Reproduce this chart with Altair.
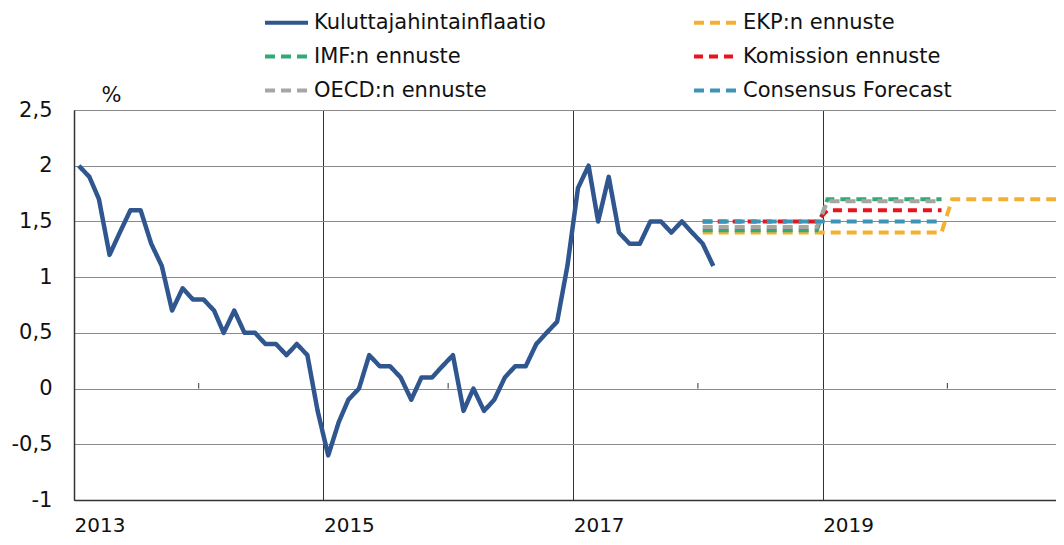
import altair as alt
import pandas as pd

# ---- data ----
cpi_start_year = 2013
cpi = [2.0, 1.9, 1.7, 1.2, 1.4, 1.6, 1.6, 1.3, 1.1, 0.7, 0.9, 0.8,
       0.8, 0.7, 0.5, 0.7, 0.5, 0.5, 0.4, 0.4, 0.3, 0.4, 0.3, -0.2,
       -0.6, -0.3, -0.1, 0.0, 0.3, 0.2, 0.2, 0.1, -0.1, 0.1, 0.1, 0.2,
       0.3, -0.2, 0.0, -0.2, -0.1, 0.1, 0.2, 0.2, 0.4, 0.5, 0.6, 1.1,
       1.8, 2.0, 1.5, 1.9, 1.4, 1.3, 1.3, 1.5, 1.5, 1.4, 1.5, 1.4,
       1.3, 1.1]

forecast_years = [2018, 2019, 2020]
ekp = [1.4, 1.4, 1.7]
imf = [1.42, 1.7]
komissio = [1.5, 1.6]
oecd = [1.45, 1.68]
consensus = [1.5, 1.5]

# legend order (Vega fills the two legend columns top-down)
series_names = ["Kuluttajahintainflaatio", "IMF:n ennuste", "OECD:n ennuste",
                "EKP:n ennuste", "Komission ennuste", "Consensus Forecast"]
series_colors = ["#30568F", "#35A877", "#A6A6A6", "#F5B031", "#E8141B", "#3E94B5"]
series_dash = [[1, 0], [10, 6], [10, 6], [10, 6], [9, 6], [10, 6]]

minor_tick_years = [2014, 2016, 2018, 2020]
grid_years = [2013, 2015, 2017, 2019]
y_ticks = [-1, -0.5, 0, 0.5, 1, 1.5, 2, 2.5]

# ---- tables (monthly observations dated mid-month) ----
rows = []
for i, v in enumerate(cpi):
    y = cpi_start_year + i // 12
    m = i % 12 + 1
    rows.append({"date": f"{y}-{m:02d}-15", "value": v, "series": series_names[0]})
cpi_df = pd.DataFrame(rows)

frows = []
for name, vals in [("EKP:n ennuste", ekp), ("IMF:n ennuste", imf),
                   ("Komission ennuste", komissio), ("OECD:n ennuste", oecd),
                   ("Consensus Forecast", consensus)]:
    for y, v in zip(forecast_years, vals):
        for m in range(1, 13):
            frows.append({"date": f"{y}-{m:02d}-15", "value": v, "series": name})
fc_df = pd.DataFrame(frows)

tick_df = pd.DataFrame({"date": [f"{y}-01-01" for y in minor_tick_years],
                        "y0": [0] * len(minor_tick_years),
                        "y1": [0.05] * len(minor_tick_years)})

FONT = "DejaVu Sans"

x_scale = alt.Scale(type="utc",
                    domain=[alt.DateTime(year=2013, month=1, date=1, utc=True),
                            alt.DateTime(year=2020, month=11, date=14, utc=True)])
y_scale = alt.Scale(domain=[-1, 2.5], nice=False, zero=False)

x_axis = alt.Axis(values=[alt.DateTime(year=y, month=1, date=1, utc=True) for y in grid_years],
                  format="%Y", labelAlign="left", labelFlush=False,
                  labelPadding=15, ticks=False, grid=True, gridColor="#333333",
                  gridWidth=1, domainColor="#333333", domainWidth=1.5,
                  labelFont=FONT, labelFontSize=20, labelColor="#111111", title=None)
y_axis = alt.Axis(values=y_ticks, labelExpr="replace(toString(datum.value), '.', ',')",
                  ticks=False, labelPadding=22, grid=True, gridColor="#8a8a8a", gridWidth=1,
                  domainColor="#333333", domainWidth=1.5,
                  labelFont=FONT, labelFontSize=21, labelColor="#111111",
                  title="%", titleAngle=0, titleX=37, titleY=-5, titleAlign="center",
                  titleBaseline="bottom", titleFont=FONT, titleFontSize=21,
                  titleFontWeight="normal", titleColor="#111111")

color = alt.Color("series:N", scale=alt.Scale(domain=series_names, range=series_colors),
                  sort=series_names,
                  legend=alt.Legend(title=None, orient="none", legendX=189, legendY=-111,
                                    columns=2, columnPadding=140, rowPadding=-12.5,
                                    symbolType="stroke", symbolSize=1849,
                                    symbolStrokeWidth=4, labelFont=FONT, labelFontSize=21,
                                    labelColor="#111111", labelOffset=4, labelLimit=400,
                                    padding=0))
dash = alt.StrokeDash("series:N", scale=alt.Scale(domain=series_names, range=series_dash),
                      sort=series_names, legend=alt.Legend(title=None))

cpi_line = alt.Chart(cpi_df).mark_line(strokeWidth=4.5, strokeJoin="round").encode(
    x=alt.X("date:T", scale=x_scale, axis=x_axis),
    y=alt.Y("value:Q", scale=y_scale, axis=y_axis),
    color=color, strokeDash=dash,
)

fc_lines = alt.Chart(fc_df).mark_line(strokeWidth=4, strokeJoin="miter", clip=True).encode(
    x=alt.X("date:T", scale=x_scale),
    y=alt.Y("value:Q", scale=y_scale),
    color=color, strokeDash=dash,
    order=alt.Order("date:T"),
)

ticks = alt.Chart(tick_df).mark_rule(color="#333333", strokeWidth=1).encode(
    x=alt.X("date:T", scale=x_scale),
    y=alt.Y("y0:Q", scale=y_scale),
    y2="y1:Q",
)

chart = alt.layer(ticks, cpi_line, fc_lines).properties(
    width=982, height=390,
    autosize=alt.AutoSizeParams(type="none"),
    padding={"left": 66, "top": 102, "right": 0, "bottom": 37},
).configure_view(strokeWidth=0).configure(background="white")

chart.save("out.html", embed_options={"renderer": "svg", "actions": False})
